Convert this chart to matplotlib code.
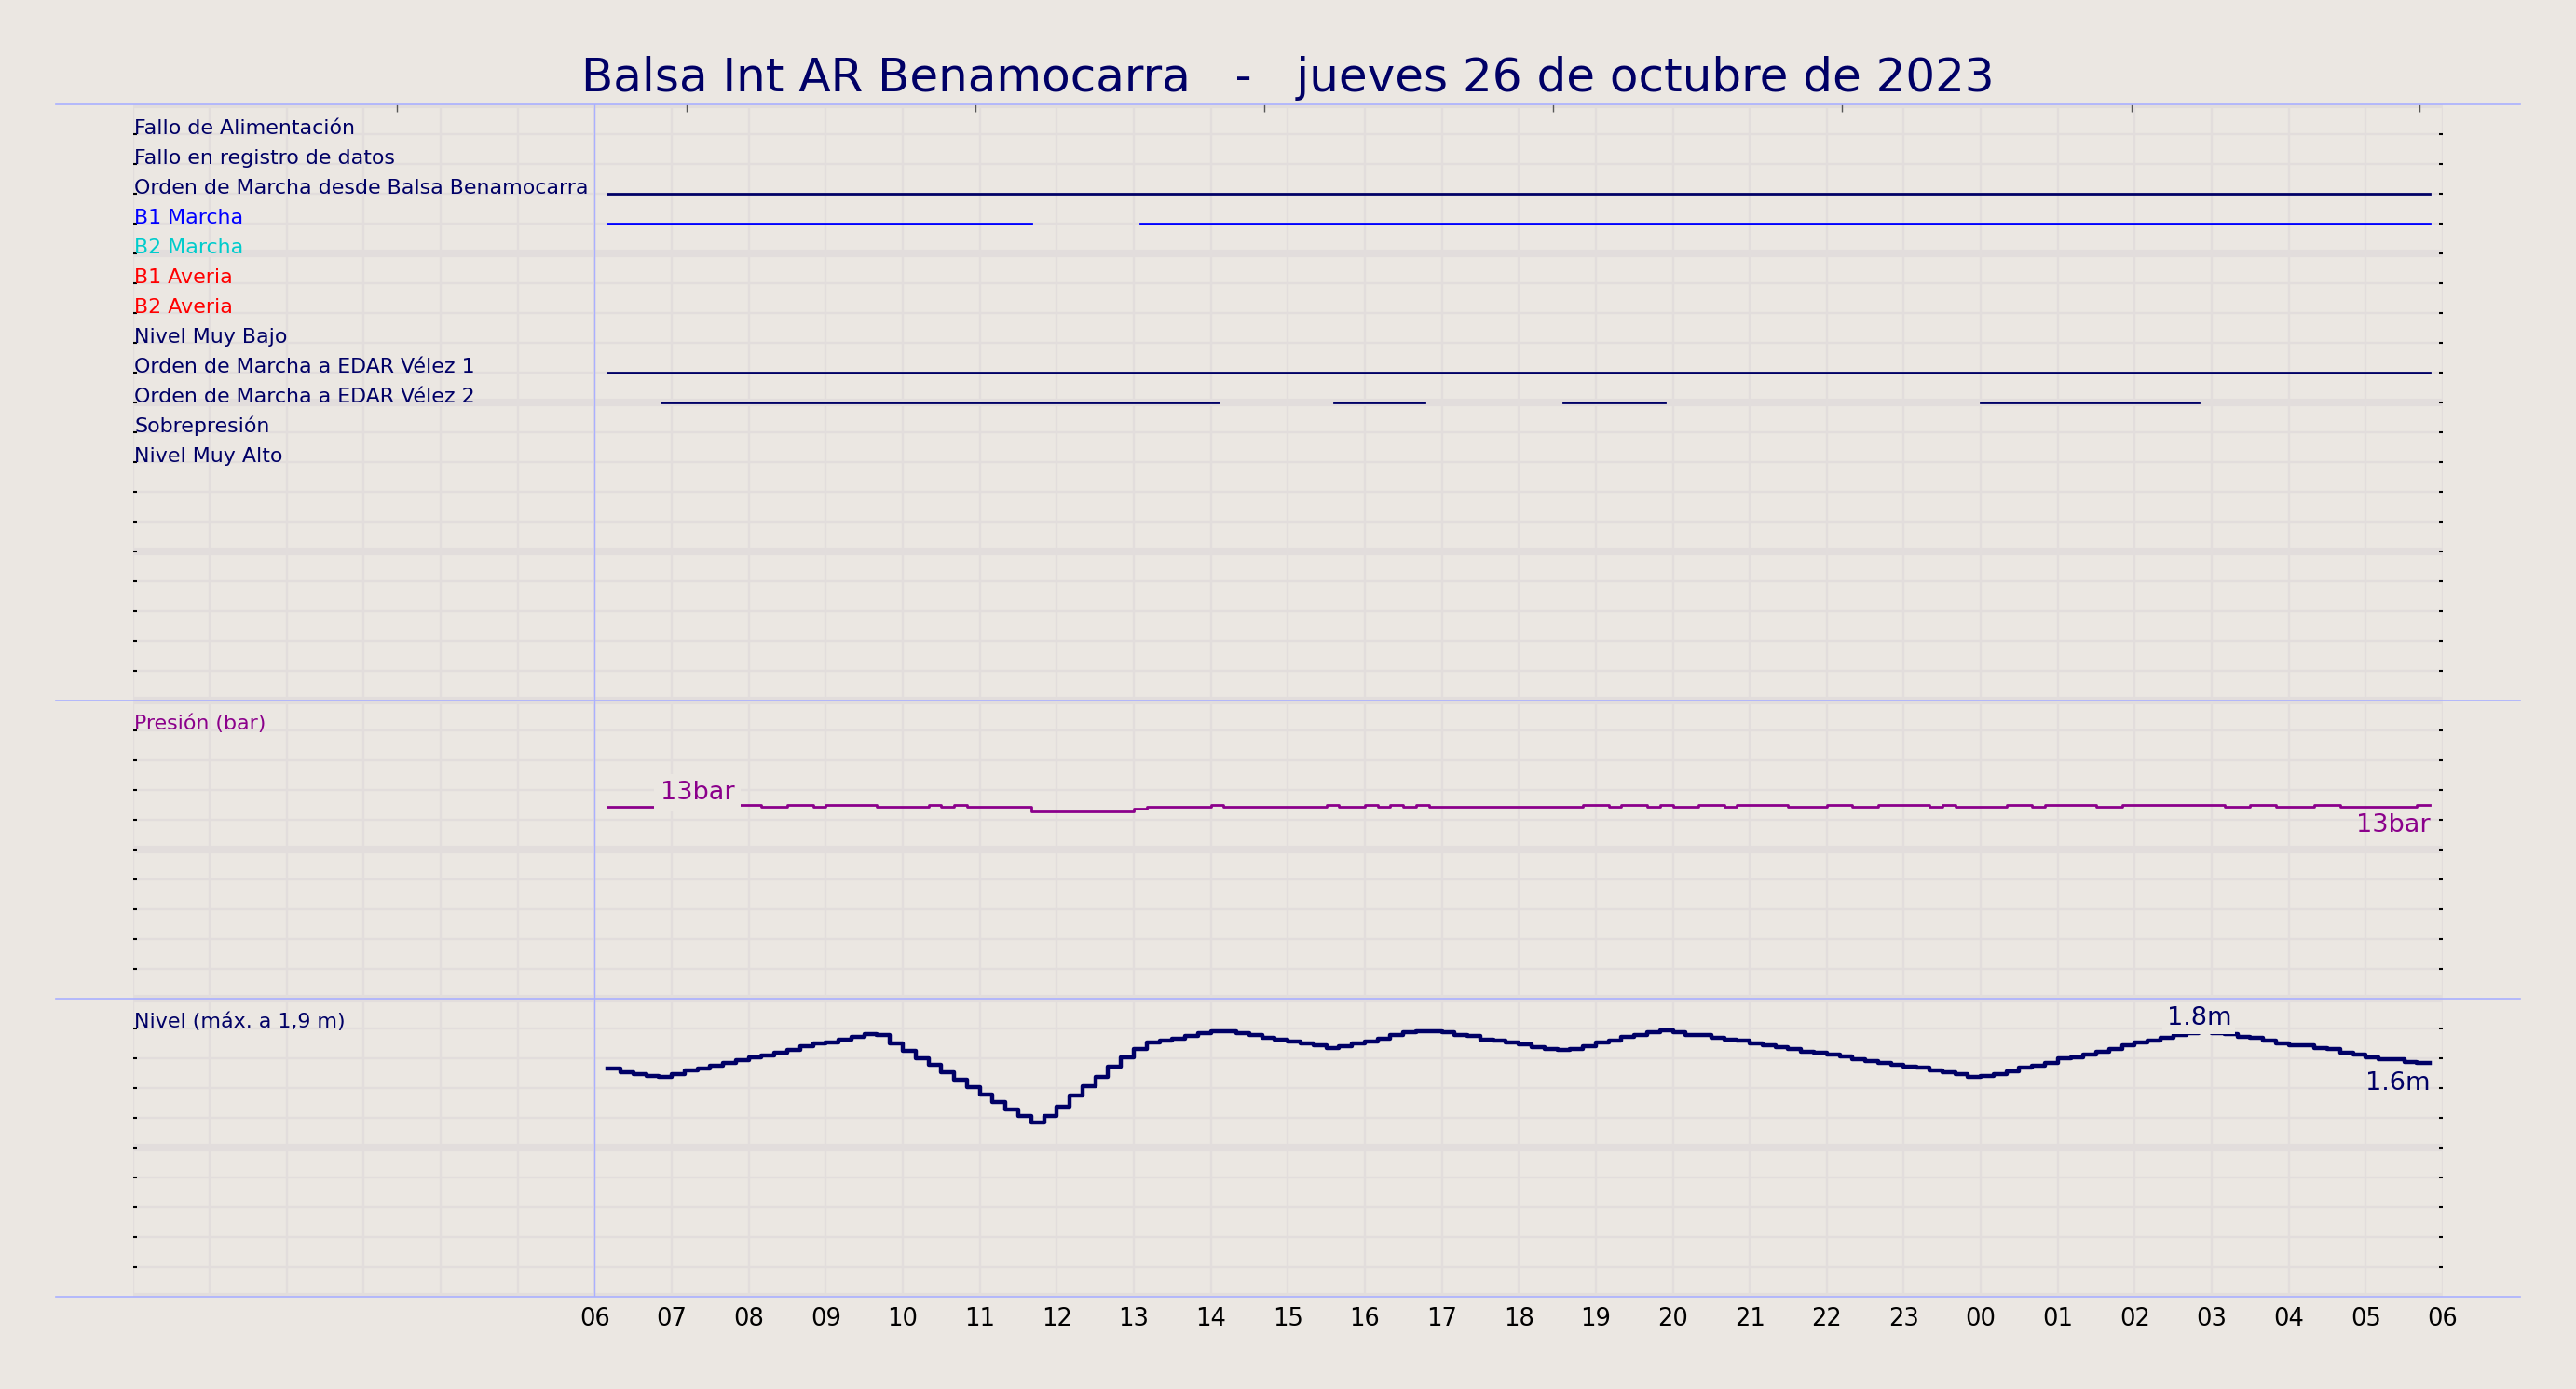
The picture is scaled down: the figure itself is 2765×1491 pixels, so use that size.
import numpy as np
import matplotlib
matplotlib.use('Agg')
import matplotlib.pyplot as plt
from matplotlib.lines import Line2D

BG = '#ebe7e2'
GRID = '#e2dddc'
NAVY = '#000066'
SEP = '#aab0ff'
PURPLE = '#8b008b'

title = 'Balsa Int AR Benamocarra   -   jueves 26 de octubre de 2023'
hour_labels = ['06', '07', '08', '09', '10', '11', '12', '13', '14', '15', '16', '17',
               '18', '19', '20', '21', '22', '23', '00', '01', '02', '03', '04', '05', '06']
# marcas superiores del panel de eventos (horas)
top_ticks = [3.43, 7.19, 10.94, 14.70, 18.45, 22.20, 25.96, 29.70]

signal_names = ['Fallo de Alimentación', 'Fallo en registro de datos',
                'Orden de Marcha desde Balsa Benamocarra', 'B1 Marcha', 'B2 Marcha',
                'B1 Averia', 'B2 Averia', 'Nivel Muy Bajo',
                'Orden de Marcha a EDAR Vélez 1', 'Orden de Marcha a EDAR Vélez 2',
                'Sobrepresión', 'Nivel Muy Alto']
signal_colors = [NAVY, NAVY, NAVY, '#0000ff', '#00cccc', '#ff0000', '#ff0000', NAVY,
                 NAVY, NAVY, NAVY, NAVY]
# tramos activos (hora inicio, hora fin)
signal_on = {
    'Orden de Marcha desde Balsa Benamocarra': [(6.17, 29.83)],
    'B1 Marcha': [(6.17, 11.67), (13.08, 29.83)],
    'Orden de Marcha a EDAR Vélez 1': [(6.17, 29.83)],
    'Orden de Marcha a EDAR Vélez 2': [(6.87, 14.10), (15.60, 16.77), (18.58, 19.90), (24.00, 26.83)],
}

# registros cada 10 min, de 06:10 a 05:50 (una fila por hora)
pressure_rows = [
    [12.9, 12.9, 12.9, 12.9, 12.9],
    [12.9, 12.9, 13.0, 12.9, 12.9, 13.0],
    [13.0, 12.9, 12.9, 13.0, 13.0, 12.9],
    [13.0, 13.0, 13.0, 13.0, 12.9, 12.9],
    [12.9, 12.9, 13.0, 12.9, 13.0, 12.9],
    [12.9, 12.9, 12.9, 12.9, 12.6, 12.6],
    [12.6, 12.6, 12.6, 12.6, 12.6, 12.6],
    [12.75, 12.9, 12.9, 12.9, 12.9, 12.9],
    [13.0, 12.9, 12.9, 12.9, 12.9, 12.9],
    [12.9, 12.9, 12.9, 13.0, 12.9, 12.9],
    [13.0, 12.9, 13.0, 12.9, 13.0, 12.9],
    [12.9, 12.9, 12.9, 12.9, 12.9, 12.9],
    [12.9, 12.9, 12.9, 12.9, 12.9, 13.0],
    [13.0, 12.9, 13.0, 13.0, 12.9, 13.0],
    [12.9, 12.9, 13.0, 13.0, 12.9, 13.0],
    [13.0, 13.0, 13.0, 12.9, 12.9, 12.9],
    [13.0, 13.0, 12.9, 12.9, 13.0, 13.0],
    [13.0, 13.0, 12.9, 13.0, 12.9, 12.9],
    [12.9, 12.9, 13.0, 13.0, 12.9, 13.0],
    [13.0, 13.0, 13.0, 12.9, 12.9, 13.0],
    [13.0, 13.0, 13.0, 13.0, 13.0, 13.0],
    [13.0, 12.9, 12.9, 13.0, 13.0, 12.9],
    [12.9, 12.9, 13.0, 13.0, 12.9, 12.9],
    [12.9, 12.9, 12.9, 12.9, 13.0, 13.0],
]
level_rows = [
    [1.529, 1.504, 1.494, 1.481, 1.473],
    [1.496, 1.517, 1.533, 1.552, 1.571, 1.590],
    [1.606, 1.621, 1.640, 1.658, 1.683, 1.698],
    [1.708, 1.727, 1.744, 1.763, 1.754, 1.700],
    [1.648, 1.598, 1.556, 1.504, 1.458, 1.406],
    [1.358, 1.304, 1.254, 1.213, 1.171, 1.213],
    [1.277, 1.350, 1.410, 1.475, 1.546, 1.608],
    [1.663, 1.704, 1.721, 1.733, 1.752, 1.771],
    [1.783, 1.779, 1.767, 1.754, 1.738, 1.723],
    [1.710, 1.698, 1.685, 1.667, 1.679, 1.698],
    [1.715, 1.729, 1.754, 1.773, 1.783, 1.783],
    [1.773, 1.754, 1.748, 1.723, 1.717, 1.704],
    [1.692, 1.677, 1.665, 1.654, 1.665, 1.683],
    [1.704, 1.717, 1.746, 1.758, 1.777, 1.785],
    [1.773, 1.754, 1.754, 1.735, 1.723, 1.717],
    [1.698, 1.685, 1.677, 1.660, 1.644, 1.635],
    [1.623, 1.610, 1.594, 1.581, 1.567, 1.554],
    [1.542, 1.535, 1.517, 1.504, 1.492, 1.475],
    [1.481, 1.494, 1.510, 1.538, 1.552, 1.571],
    [1.600, 1.608, 1.627, 1.644, 1.663, 1.688],
    [1.704, 1.721, 1.738, 1.754, 1.769, 1.790],
    [1.771, 1.763, 1.742, 1.738, 1.719, 1.700],
    [1.688, 1.685, 1.667, 1.660, 1.635, 1.623],
    [1.608, 1.594, 1.592, 1.577, 1.567, 1.567],
]

pressure = np.array([v for row in pressure_rows for v in row])
level = np.array([v for row in level_rows for v in row])
times = 6 + (np.arange(len(level)) + 1) / 6.0   # horas desde las 00:00

W, H = 2765, 1491
fig = plt.figure(figsize=(W / 100, H / 100), dpi=100, facecolor=BG)
left = 142.5 / W
width = (2622 - 142.5) / W
edges = [112.3, 752.3, 1072.0, 1392.3]   # bordes de los paneles en px


def panel(top_px, bot_px, ymax, step, major):
    ax = fig.add_axes([left, 1 - bot_px / H, width, (bot_px - top_px) / H])
    ax.set_facecolor(BG)
    ax.set_xlim(0, 30)
    ax.set_ylim(0, ymax)
    for s in ax.spines.values():
        s.set_visible(False)
    n = int(round(ymax / step))
    for k in range(n + 1):
        ax.axhline(k * step, color=GRID, lw=5.8 if k % major == 0 else 1.7, zorder=0.5)
    for h in range(31):
        ax.axvline(h, color=GRID, lw=1.7, zorder=0.6)
    ax.axvline(6, color=SEP, lw=1, zorder=0.7)
    ax.set_yticks([k * step for k in range(1, n)])
    ax.tick_params(axis='y', left=True, right=True, direction='in', length=3, width=1.5,
                   color='black', labelleft=False)
    return ax


ax_ev = panel(edges[0], edges[1], 20, 1, 5)
ax_p = panel(edges[1], edges[2], 20, 2, 5)
ax_n = panel(edges[2], edges[3], 2.0, 0.2, 5)

# panel de eventos
for i, name in enumerate(signal_names):
    y = 19 - i
    ax_ev.text(0.02, y + 0.02, name, color=signal_colors[i], fontsize=15.9,
               ha='left', va='baseline', zorder=4)
    for a, b in signal_on.get(name, []):
        ax_ev.plot([a, b], [y, y], color=signal_colors[i], lw=2, solid_capstyle='projecting', zorder=3)
ax_ev.set_xticks(top_ticks)
ax_ev.tick_params(axis='x', top=True, bottom=False, labelbottom=False, direction='in',
                  length=5.5, width=1, color='#555555')

box_p = dict(boxstyle='square,pad=0.25', fc=BG, ec='none')
box_n = dict(boxstyle='square,pad=0.15', fc=BG, ec='none')

# presión
ax_p.set_xticks([])
ax_p.step(times, pressure, where='post', color=PURPLE, lw=2, zorder=3)
ax_p.text(0.02, 18.05, 'Presión (bar)', color=PURPLE, fontsize=15.9, va='baseline', zorder=4)
im = int(np.argmax(pressure))
ax_p.text(times[im], pressure[im], '%.0fbar' % pressure[im], color=PURPLE, fontsize=19.5,
          ha='center', va='bottom', bbox=box_p, zorder=5)
ax_p.annotate('%.0fbar' % pressure[-1], (times[-1], pressure[-1]), xytext=(0, -6),
              textcoords='offset points', color=PURPLE, fontsize=19.5,
              ha='right', va='top', zorder=5)

# nivel
ax_n.step(times, level, where='post', color=NAVY, lw=3.2, zorder=3)
ax_n.text(0.02, 1.805, 'Nivel (máx. a 1,9 m)', color=NAVY, fontsize=15.9, va='baseline', zorder=4)
il = int(np.argmax(level))
ax_n.text(times[il], level[il], '%.1fm' % level[il], color=NAVY, fontsize=19.5,
          ha='center', va='bottom', bbox=box_n, zorder=5)
ax_n.annotate('%.1fm' % level[-1], (times[-1], level[-1]), xytext=(0, -6),
              textcoords='offset points', color=NAVY, fontsize=19.5,
              ha='right', va='top', zorder=5)
ax_n.set_xticks(range(6, 31))
ax_n.set_xticklabels(hour_labels, fontsize=18.5)
ax_n.tick_params(axis='x', length=0, pad=8)

# separadores
for e in edges:
    fig.add_artist(Line2D([60 / W, 2705 / W], [1 - e / H, 1 - e / H], color=SEP, lw=1.2))

fig.text(0.5, 1 - 84 / H, title, ha='center', va='center', fontsize=36, color=NAVY)

fig.savefig('out.png', dpi=100, facecolor=BG)
